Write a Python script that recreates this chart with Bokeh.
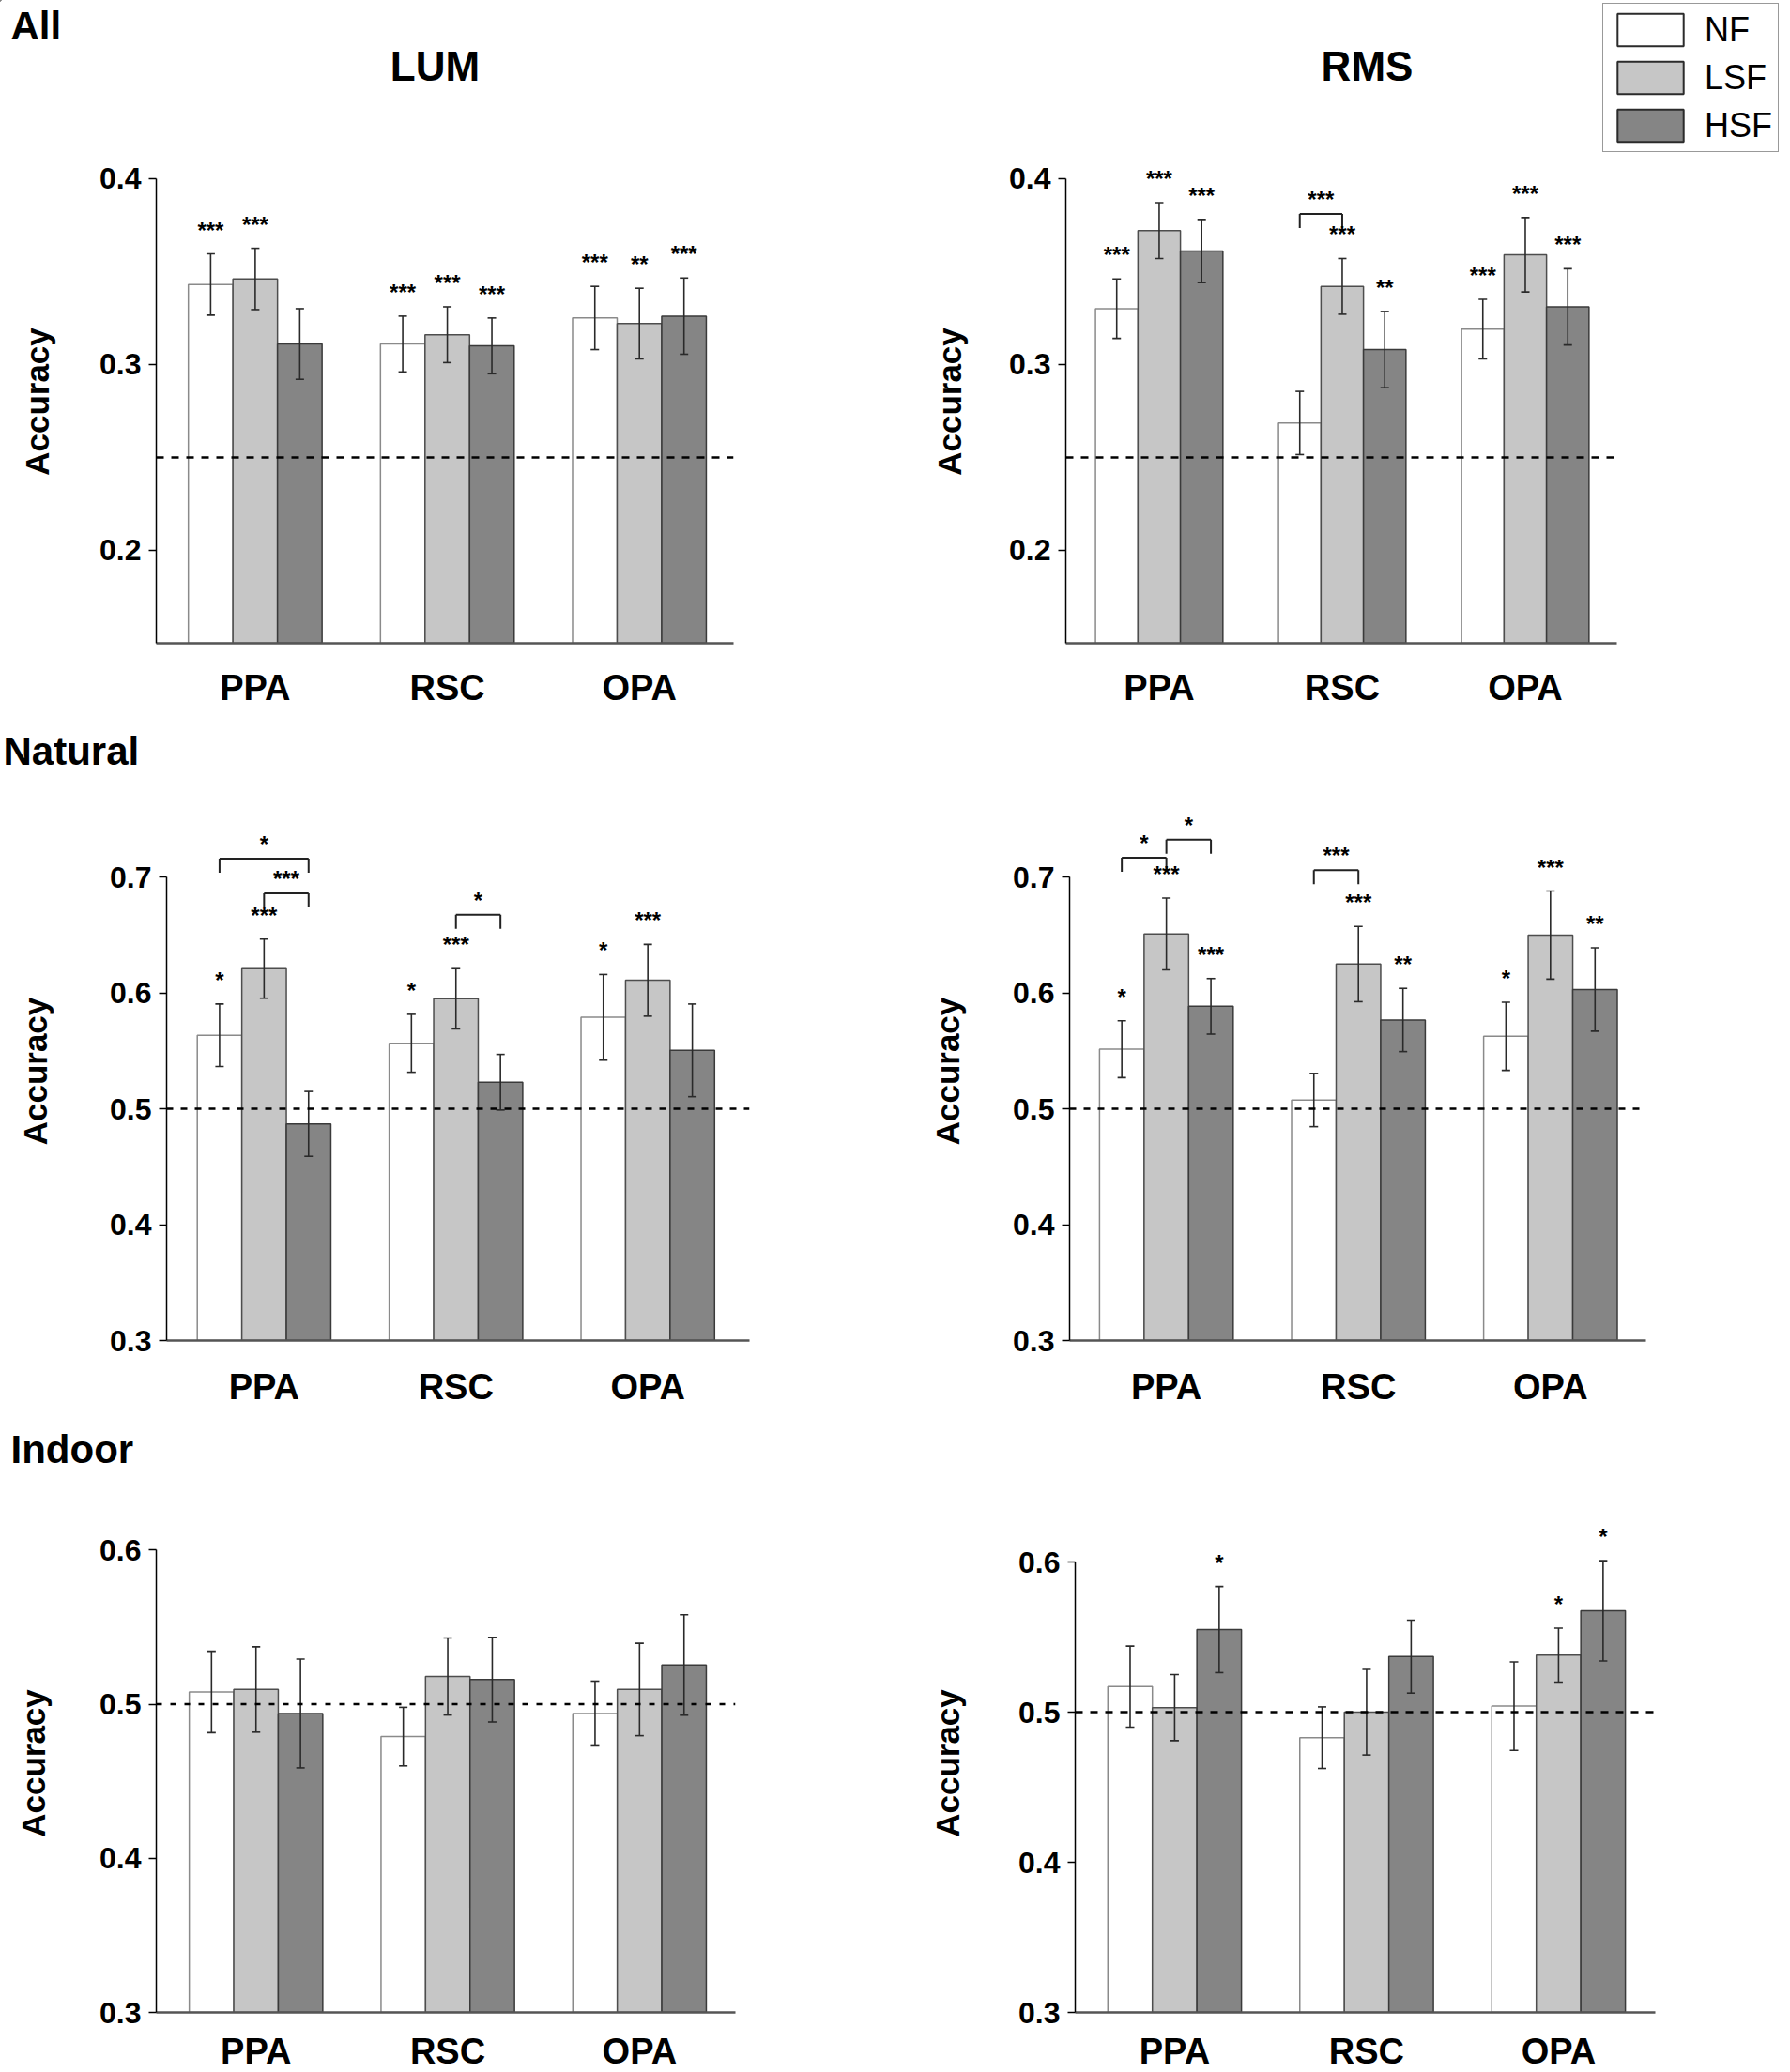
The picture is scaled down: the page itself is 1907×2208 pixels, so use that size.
from bokeh.plotting import figure
from bokeh.models import (Range1d, FixedTicker, PrintfTickFormatter, Span, Whisker, TeeHead,
                          ColumnDataSource, LabelSet, Legend, LegendItem)
from bokeh.core.properties import value
from bokeh.layouts import column, row
from bokeh.embed import file_html
from bokeh.resources import INLINE

FONT = "Liberation Sans"

regions = ["PPA", "RSC", "OPA"]
series = ["NF", "LSF", "HSF"]

# ---- data: [series][region] ----
all_lum_mean = [[0.343, 0.311, 0.325], [0.346, 0.316, 0.322], [0.311, 0.310, 0.326]]
all_lum_err = [[0.0165, 0.015, 0.017], [0.0165, 0.015, 0.019], [0.019, 0.015, 0.0205]]
all_lum_sig = [["***", "***", "***"], ["***", "***", "**"], ["", "***", "***"]]
all_lum_brackets = []

all_rms_mean = [[0.330, 0.2685, 0.319], [0.372, 0.342, 0.359], [0.361, 0.308, 0.331]]
all_rms_err = [[0.016, 0.017, 0.016], [0.015, 0.015, 0.020], [0.017, 0.0205, 0.0205]]
all_rms_sig = [["***", "", "***"], ["***", "***", "***"], ["***", "**", "***"]]
# (region, from series, to series, bracket level, label)
all_rms_brackets = [(1, 0, 1, 0.381, "***")]

nat_lum_mean = [[0.5635, 0.5566, 0.579], [0.621, 0.595, 0.611], [0.487, 0.523, 0.5505]]
nat_lum_err = [[0.027, 0.025, 0.037], [0.0255, 0.026, 0.031], [0.028, 0.024, 0.040]]
nat_lum_sig = [["*", "*", "*"], ["***", "***", "***"], ["", "", ""]]
nat_lum_brackets = [(0, 0, 2, 0.716, "*"), (0, 1, 2, 0.686, "***"), (1, 1, 2, 0.6675, "*")]

nat_rms_mean = [[0.5515, 0.5076, 0.5626], [0.651, 0.625, 0.650], [0.5885, 0.5767, 0.603]]
nat_rms_err = [[0.0246, 0.023, 0.0294], [0.031, 0.0325, 0.038], [0.024, 0.0273, 0.036]]
nat_rms_sig = [["*", "", "*"], ["***", "***", "***"], ["***", "**", "**"]]
nat_rms_brackets = [(0, 0, 1, 0.7168, "*"), (0, 1, 2, 0.7324, "*"), (1, 0, 1, 0.706, "***")]

ind_lum_mean = [[0.508, 0.479, 0.494], [0.5096, 0.518, 0.5096], [0.494, 0.516, 0.5255]]
ind_lum_err = [[0.0264, 0.019, 0.021], [0.0277, 0.025, 0.030], [0.0353, 0.0275, 0.0326]]
ind_lum_sig = [["", "", ""], ["", "", ""], ["", "", ""]]
ind_lum_brackets = []

ind_rms_mean = [[0.517, 0.483, 0.504], [0.503, 0.500, 0.538], [0.555, 0.537, 0.5675]]
ind_rms_err = [[0.027, 0.0205, 0.0295], [0.022, 0.0285, 0.018], [0.0287, 0.0243, 0.0334]]
ind_rms_sig = [["", "", ""], ["", "", "*"], ["*", "", "*"]]
ind_rms_brackets = []

chance_levels = [0.25, 0.5, 0.5]
row_names = ["All", "Natural", "Indoor"]
col_names = ["LUM", "RMS"]

# ---- styles ----
fills = ["#ffffff", "#c6c6c6", "#858585"]
lines = ["#8a8a8a", "#4d4d4d", "#3a3a3a"]
offsets = [-0.232, 0.0, 0.232]
BAR_W = 0.232
PAGE_W = 1907


def make_panel(mean, err, sig, brackets, chance, yr, ybounds, yticks, xr, geom, dash,
               xstandoff, ylab_standoff):
    bl, fw, br, bt, fh, bb = geom
    p = figure(frame_width=fw, frame_height=fh, min_border_left=bl, min_border_right=br,
               min_border_top=bt, min_border_bottom=bb,
               x_range=Range1d(*xr), y_range=Range1d(*yr),
               output_backend="svg", toolbar_location=None, tools="")
    p.outline_line_color = None
    p.xgrid.visible = False
    p.ygrid.visible = False
    p.background_fill_color = "white"
    p.border_fill_color = "white"

    for s in range(3):
        upper = [m + e for m, e in zip(mean[s], err[s])]
        lower = [m - e for m, e in zip(mean[s], err[s])]
        src = ColumnDataSource(dict(x=[i + offsets[s] for i in range(len(regions))],
                                    top=mean[s], upper=upper, lower=lower, sig=sig[s]))
        p.vbar(x="x", top="top", bottom=yr[0], width=BAR_W, source=src,
               fill_color=fills[s], line_color=lines[s], line_width=1.5)
        p.add_layout(Whisker(base="x", upper="upper", lower="lower", source=src,
                             dimension="height", level="annotation",
                             line_color="#2a2a2a", line_width=1.6,
                             upper_head=TeeHead(size=9, line_color="#2a2a2a", line_width=1.6),
                             lower_head=TeeHead(size=9, line_color="#2a2a2a", line_width=1.6)))
        p.add_layout(LabelSet(x="x", y="upper", text="sig", source=src, y_offset=17,
                              text_align="center", text_baseline="alphabetic",
                              text_font=value(FONT), text_font_style="bold",
                              text_font_size="24px", text_color="black"))

    p.add_layout(Span(location=chance, dimension="width", line_color="black",
                      line_width=2.5, line_dash=dash))

    if brackets:
        leg = 15 * (yr[1] - yr[0]) / fh
        x0, y0, x1, y1 = [], [], [], []
        bx, by, bt_ = [], [], []
        for (g, a, b, ytop, lab) in brackets:
            xa = g + offsets[a]
            xb = g + offsets[b]
            x0 += [xa, xa, xb]
            y0 += [ytop, ytop, ytop]
            x1 += [xb, xa, xb]
            y1 += [ytop, ytop - leg, ytop - leg]
            bx.append((xa + xb) / 2)
            by.append(ytop)
            bt_.append(lab)
        p.segment(x0=x0, y0=y0, x1=x1, y1=y1, line_color="#222222", line_width=2)
        bsrc = ColumnDataSource(dict(x=bx, y=by, t=bt_))
        p.add_layout(LabelSet(x="x", y="y", text="t", source=bsrc, y_offset=7,
                              text_align="center", text_baseline="alphabetic",
                              text_font=value(FONT), text_font_style="bold",
                              text_font_size="24px", text_color="black"))

    ya = p.yaxis[0]
    ya.ticker = FixedTicker(ticks=yticks)
    ya.formatter = PrintfTickFormatter(format="%.1f")
    ya.bounds = ybounds
    ya.axis_line_color = "black"
    ya.axis_line_width = 1.5
    ya.major_tick_out = 8
    ya.major_tick_in = 0
    ya.major_tick_line_width = 1.5
    ya.minor_tick_line_color = None
    ya.major_label_text_font = FONT
    ya.major_label_text_font_style = "bold"
    ya.major_label_text_font_size = "32px"
    ya.major_label_text_color = "black"
    ya.major_label_standoff = 8
    ya.axis_label = "Accuracy"
    ya.axis_label_text_font = FONT
    ya.axis_label_text_font_style = "bold"
    ya.axis_label_text_font_size = "35px"
    ya.axis_label_text_color = "black"
    ya.axis_label_standoff = ylab_standoff

    xa = p.xaxis[0]
    xa.ticker = FixedTicker(ticks=list(range(len(regions))))
    xa.major_label_overrides = {i: r for i, r in enumerate(regions)}
    xa.axis_line_color = "#555555"
    xa.axis_line_width = 2.5
    xa.major_tick_line_color = None
    xa.minor_tick_line_color = None
    xa.major_label_text_font = FONT
    xa.major_label_text_font_style = "bold"
    xa.major_label_text_font_size = "38px"
    xa.major_label_text_color = "black"
    xa.major_label_standoff = xstandoff
    return p


def header_strip(h):
    hp = figure(width=PAGE_W, height=h, x_range=Range1d(0, PAGE_W), y_range=Range1d(h, 0),
                min_border=0, x_axis_location=None, y_axis_location=None,
                output_backend="svg", toolbar_location=None, tools="")
    hp.outline_line_color = None
    hp.grid.visible = False
    hp.background_fill_color = "white"
    hp.border_fill_color = "white"
    return hp


def head_text(hp, text, x, y, align="left", size="42px"):
    hp.text(x=[x], y=[y], text=[text], text_font=value(FONT), text_font_style="bold",
            text_font_size=size, text_baseline="middle", text_align=align,
            text_color="black")


# ---- row 1 ----
h1 = header_strip(164)
head_text(h1, row_names[0], 11, 27)
head_text(h1, col_names[0], 463, 70, align="center", size="44px")
head_text(h1, col_names[1], 1456, 70, align="center", size="44px")
# legend swatches: one off-screen bar per series so the legend can draw them
swatches = [h1.vbar(x=[-1000], top=[-1000], bottom=[-1001], width=1, fill_color=fills[s],
                    line_color="#2b2b2b", line_width=2) for s in range(3)]
legend = Legend(items=[LegendItem(label=s, renderers=[r]) for s, r in zip(series, swatches)],
                location=(1707, 2), orientation="vertical",
                glyph_width=88, glyph_height=43, spacing=8, padding=6, margin=0,
                label_standoff=14, label_text_font=FONT, label_text_font_size="36px",
                label_text_color="black", border_line_color="#333333", border_line_width=1.5,
                background_fill_color="white", background_fill_alpha=1.0)
h1.add_layout(legend)

f1 = make_panel(all_lum_mean, all_lum_err, all_lum_sig, all_lum_brackets, chance_levels[0],
                (0.15, 0.41), (0.15, 0.4), [0.2, 0.3, 0.4], (-0.515, 2.49),
                (166, 615, 169, 6, 515, 75), "8 8", 20, 44)
f2 = make_panel(all_rms_mean, all_rms_err, all_rms_sig, all_rms_brackets, chance_levels[0],
                (0.15, 0.41), (0.15, 0.4), [0.2, 0.3, 0.4], (-0.51, 2.5),
                (185, 587, 185, 6, 515, 75), "8 8", 20, 41)

# ---- row 2 ----
h2 = header_strip(70)
head_text(h2, row_names[1], 3, 40)
f3 = make_panel(nat_lum_mean, nat_lum_err, nat_lum_sig, nat_lum_brackets, chance_levels[1],
                (0.3, 0.765), (0.3, 0.7), [0.3, 0.4, 0.5, 0.6, 0.7], (-0.508, 2.53),
                (177, 621, 152, 24, 574, 72), "7 8", 22, 57)
f4 = make_panel(nat_rms_mean, nat_rms_err, nat_rms_sig, nat_rms_brackets, chance_levels[1],
                (0.3, 0.765), (0.3, 0.7), [0.3, 0.4, 0.5, 0.6, 0.7], (-0.504, 2.497),
                (189, 614, 154, 24, 574, 72), "7 8", 22, 47)

# ---- row 3 ----
h3 = header_strip(70)
head_text(h3, row_names[2], 11, 43)
f5 = make_panel(ind_lum_mean, ind_lum_err, ind_lum_sig, ind_lum_brackets, chance_levels[2],
                (0.3, 0.6234), (0.3, 0.6), [0.3, 0.4, 0.5, 0.6], (-0.52, 2.5),
                (166, 617, 167, 42, 531, 62), "6 9", 14, 48)
f6 = make_panel(ind_rms_mean, ind_rms_err, ind_rms_sig, ind_rms_brackets, chance_levels[2],
                (0.3, 0.6319), (0.3, 0.6), [0.3, 0.4, 0.5, 0.6], (-0.518, 2.504),
                (195, 618, 144, 42, 531, 62), "8 8", 14, 53)

layout = column(h1, row(f1, f2), h2, row(f3, f4), h3, row(f5, f6))
open("out.html", "w").write(file_html(layout, INLINE))
